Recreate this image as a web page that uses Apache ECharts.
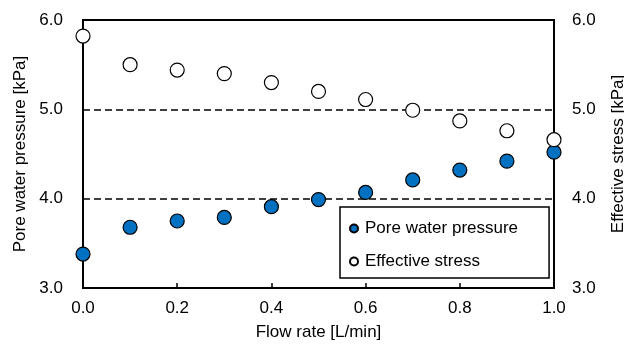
<!DOCTYPE html>
<html>
<head>
<meta charset="utf-8">
<script src="https://cdn.jsdelivr.net/npm/echarts@6/dist/echarts.min.js"></script>
<style>
  html, body { margin: 0; padding: 0; background: #fff; }
  #chart { width: 624px; height: 348px; }
</style>
</head>
<body>
<div id="chart"></div>
<script>
// Flow rate (L/min) on the x axis
const flowRate = [0.0, 0.1, 0.2, 0.3, 0.4, 0.5, 0.6, 0.7, 0.8, 0.9, 1.0];
// Measured pore water pressure (kPa)
const poreWaterPressure = [3.38, 3.68, 3.75, 3.79, 3.91, 3.99, 4.07, 4.21, 4.32, 4.42, 4.52];
// Effective stress (kPa)
const effectiveStress = [5.82, 5.50, 5.44, 5.40, 5.30, 5.20, 5.11, 4.99, 4.87, 4.76, 4.66];

const FONT = '"Liberation Sans", Arial, sans-serif';
const pair = (xs, ys) => xs.map((x, i) => [x, ys[i]]);

const chart = echarts.init(document.getElementById('chart'), null, { renderer: 'canvas' });

const yAxisBase = {
  type: 'value',
  min: 3, max: 6, interval: 1,
  nameLocation: 'middle',
  nameRotate: 90,
  nameTextStyle: { fontFamily: FONT, fontSize: 17, color: '#000' },
  axisLine: { show: false },
  axisTick: { show: false },
  axisLabel: {
    fontFamily: FONT, fontSize: 17, color: '#000',
    formatter: v => v.toFixed(1)
  }
};

chart.setOption({
  animation: false,
  backgroundColor: '#fff',
  grid: {
    left: 83, right: 70, top: 20, bottom: 60,
    containLabel: false,
    outerBoundsMode: 'none',
    show: true, borderColor: '#000', borderWidth: 2
  },
  xAxis: {
    type: 'value',
    min: 0, max: 1, interval: 0.2,
    name: 'Flow rate [L/min]',
    nameLocation: 'middle',
    nameGap: 36,
    nameTextStyle: { fontFamily: FONT, fontSize: 17, color: '#000' },
    axisLine: { show: false },
    axisTick: { show: true, inside: true, length: 5, lineStyle: { color: '#000', width: 1.5 } },
    splitLine: { show: false },
    axisLabel: {
      fontFamily: FONT, fontSize: 17, color: '#000', margin: 12,
      formatter: v => v.toFixed(1)
    }
  },
  yAxis: [
    Object.assign({}, yAxisBase, {
      position: 'left',
      name: 'Pore water pressure [kPa]',
      nameGap: 52,
      axisLabel: Object.assign({}, yAxisBase.axisLabel, { margin: 20 }),
      splitLine: { show: true, lineStyle: { color: '#000', type: [7, 4], width: 1.5 } }
    }),
    Object.assign({}, yAxisBase, {
      position: 'right',
      name: 'Effective stress [kPa]',
      nameGap: 56,
      axisLabel: Object.assign({}, yAxisBase.axisLabel, { margin: 18 }),
      splitLine: { show: false }
    })
  ],
  legend: {
    orient: 'vertical',
    left: 340, top: 207,
    padding: [13, 31, 8, 9],
    itemGap: 16,
    itemWidth: 8, itemHeight: 8,
    borderColor: '#000', borderWidth: 1.5,
    backgroundColor: '#fff',
    textStyle: { fontFamily: FONT, fontSize: 17, color: '#000', padding: [0, 0, 0, 2] },
    data: [
      { name: 'Pore water pressure', icon: 'circle' },
      { name: 'Effective stress', icon: 'circle' }
    ]
  },
  series: [
    {
      name: 'Pore water pressure',
      type: 'scatter',
      yAxisIndex: 0,
      symbol: 'circle',
      symbolSize: 14,
      itemStyle: { color: '#0070C0', borderColor: '#000', borderWidth: 1.2, opacity: 1 },
      data: pair(flowRate, poreWaterPressure),
      z: 3
    },
    {
      name: 'Effective stress',
      type: 'scatter',
      yAxisIndex: 1,
      symbol: 'circle',
      symbolSize: 14,
      itemStyle: { color: '#fff', borderColor: '#000', borderWidth: 1.2, opacity: 1 },
      data: pair(flowRate, effectiveStress),
      z: 3
    }
  ]
});
</script>
</body>
</html>
